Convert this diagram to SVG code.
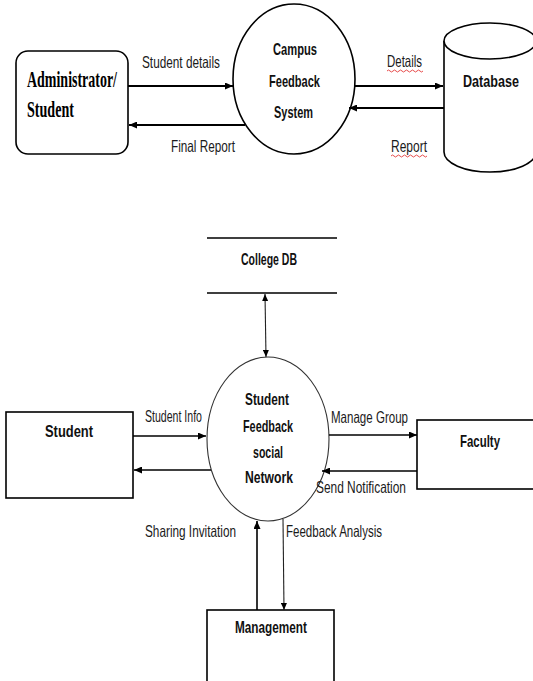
<svg xmlns="http://www.w3.org/2000/svg" width="533" height="681" viewBox="0 0 533 681">
<defs>
<style>
.bg{fill:#fff}
.shape{fill:#fff;stroke:#000;stroke-width:1.6}
.thin{fill:#fff;stroke:#333;stroke-width:1.1}
.line{fill:none;stroke:#000;stroke-width:2}
.line2{fill:none;stroke:#000;stroke-width:1.6}
.line3{fill:none;stroke:#222;stroke-width:1.1}
.lbl{font-family:"Liberation Sans",Arial,sans-serif;font-size:16.5px;fill:#1a1a1a}
.nd{font-family:"Liberation Sans",Arial,sans-serif;font-size:17px;font-weight:bold;fill:#111;text-anchor:start}
.serif{font-family:"Liberation Serif","Times New Roman",serif;font-size:23px;font-weight:bold;fill:#000}
.spell{fill:none;stroke:#e02020;stroke-width:0.8}
</style>
<marker id="ah" viewBox="0 0 8 7" refX="8" refY="3.5" markerWidth="8" markerHeight="7" markerUnits="userSpaceOnUse" orient="auto-start-reverse">
<path d="M0,0 L8,3.5 L0,7 z" fill="#000"/>
</marker>
<marker id="ahs" viewBox="0 0 7 6" refX="7" refY="3" markerWidth="7" markerHeight="6" markerUnits="userSpaceOnUse" orient="auto-start-reverse">
<path d="M0,0 L7,3 L0,6 z" fill="#000"/>
</marker>
</defs>
<rect class="bg" x="0" y="0" width="533" height="681"/>

<g id="admin">
<rect class="shape" x="16" y="51" width="112" height="103" rx="12" ry="12"/>
<text class="serif" x="27" y="87" textLength="90" lengthAdjust="spacingAndGlyphs">Administrator/</text>
<text class="serif" x="27" y="117" textLength="47" lengthAdjust="spacingAndGlyphs">Student</text>
</g>

<g id="campus">
<ellipse class="shape" cx="294" cy="79" rx="61" ry="75"/>
<text class="nd" x="273" y="55" textLength="44" lengthAdjust="spacingAndGlyphs">Campus</text>
<text class="nd" x="269" y="87" textLength="51" lengthAdjust="spacingAndGlyphs">Feedback</text>
<text class="nd" x="274" y="118" textLength="39" lengthAdjust="spacingAndGlyphs">System</text>
</g>

<g id="database">
<path class="shape" d="M444,41 V152 A46,20 0 0 0 536,152 V41"/>
<ellipse class="shape" cx="490" cy="41" rx="46" ry="18"/>
<text class="nd" x="463" y="87" font-size="18" textLength="56" lengthAdjust="spacingAndGlyphs">Database</text>
</g>

<g id="collegedb">
<path class="line2" d="M207,238 H337 M207,293 H337"/>
<text class="nd" x="241" y="265" font-size="16" textLength="56" lengthAdjust="spacingAndGlyphs">College DB</text>
</g>

<g id="sfsn">
<ellipse class="thin" cx="268" cy="439" rx="61" ry="82"/>
<text class="nd" x="245" y="405" textLength="44" lengthAdjust="spacingAndGlyphs">Student</text>
<text class="nd" x="243" y="432" textLength="50" lengthAdjust="spacingAndGlyphs">Feedback</text>
<text class="nd" x="253" y="458" textLength="30" lengthAdjust="spacingAndGlyphs">social</text>
<text class="nd" x="245" y="483" textLength="48" lengthAdjust="spacingAndGlyphs">Network</text>
</g>

<g id="student">
<rect class="shape" x="6" y="412" width="127" height="86"/>
<text class="nd" x="45" y="437" textLength="48" lengthAdjust="spacingAndGlyphs">Student</text>
</g>

<g id="faculty">
<rect class="shape" x="417" y="420" width="130" height="69"/>
<text class="nd" x="460" y="447" textLength="40" lengthAdjust="spacingAndGlyphs">Faculty</text>
</g>

<g id="management">
<rect class="shape" x="207" y="610" width="127" height="90"/>
<text class="nd" x="235" y="633" font-size="16" textLength="72" lengthAdjust="spacingAndGlyphs">Management</text>
</g>

<g id="connectors">
<path class="line" d="M128,86 H233" marker-end="url(#ah)"/>
<path class="line" d="M245,125 H129" marker-end="url(#ah)"/>
<path class="line" d="M355,86 H443" marker-end="url(#ah)"/>
<path class="line" d="M444,108 H349" marker-end="url(#ah)"/>
<path class="line3" d="M265,294 L266,357" marker-start="url(#ahs)" marker-end="url(#ahs)"/>
<path class="line2" d="M133,436 H206" marker-end="url(#ah)"/>
<path class="line2" d="M211,470 H134" marker-end="url(#ah)"/>
<path class="line2" d="M329,435 H417" marker-end="url(#ah)"/>
<path class="line2" d="M417,471 H322" marker-end="url(#ah)"/>
<path class="line2" d="M257,610 V521" marker-end="url(#ah)"/>
<path class="line3" d="M283,519 L284,610" marker-end="url(#ahs)"/>
</g>

<g id="labels">
<text class="lbl" x="142" y="68" textLength="78" lengthAdjust="spacingAndGlyphs">Student details</text>
<text class="lbl" x="171" y="152" textLength="64" lengthAdjust="spacingAndGlyphs">Final Report</text>
<text class="lbl" x="387" y="67" textLength="35" lengthAdjust="spacingAndGlyphs">Details</text>
<path class="spell" d="M387,71 q1.5,-2 3,0 t3,0 t3,0 t3,0 t3,0 t3,0 t3,0 t3,0 t3,0 t3,0 t3,0 t3,0"/>
<text class="lbl" x="391" y="152" textLength="36" lengthAdjust="spacingAndGlyphs">Report</text>
<path class="spell" d="M391,156 q1.5,-2 3,0 t3,0 t3,0 t3,0 t3,0 t3,0 t3,0 t3,0 t3,0 t3,0 t3,0 t3,0"/>
<text class="lbl" x="145" y="422" textLength="57" lengthAdjust="spacingAndGlyphs">Student Info</text>
<text class="lbl" x="331" y="423" textLength="77" lengthAdjust="spacingAndGlyphs">Manage Group</text>
<text class="lbl" x="316" y="493" textLength="90" lengthAdjust="spacingAndGlyphs">Send Notification</text>
<text class="lbl" x="145" y="537" textLength="91" lengthAdjust="spacingAndGlyphs">Sharing Invitation</text>
<text class="lbl" x="286" y="537" textLength="96" lengthAdjust="spacingAndGlyphs">Feedback Analysis</text>
</g>
</svg>
